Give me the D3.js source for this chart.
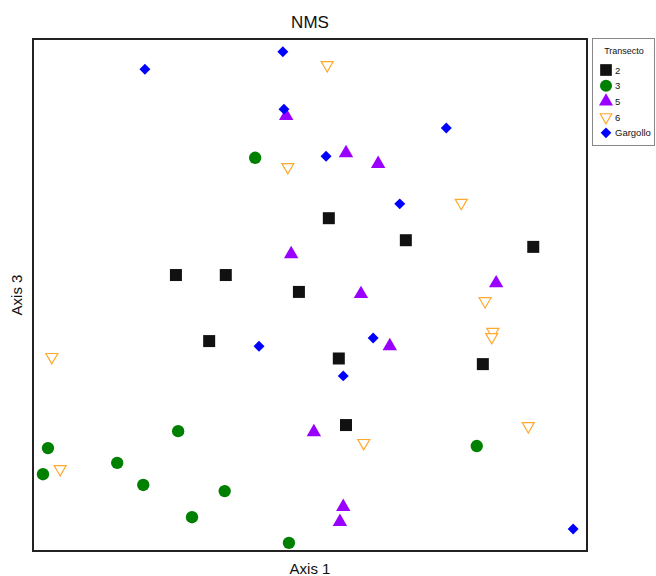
<!DOCTYPE html>
<html><head><meta charset="utf-8">
<script src="https://cdn.jsdelivr.net/npm/d3@7"></script>
<style>body{margin:0;background:#fff}svg{display:block}text{font-family:Arial,"Liberation Sans",sans-serif}</style>
</head><body><svg id="c" width="656" height="576"></svg>
<script>
// NMS scores (arbitrary axis units)
const groups = ["2","3","5","6","Gargollo"];
const axis1_2 = [0.534,0.673,0.903,0.258,0.348,0.480,0.318,0.552,0.812,0.565];
const axis3_2 = [0.650,0.607,0.594,0.539,0.539,0.506,0.410,0.376,0.365,0.246];
const axis1_3 = [0.401,0.262,0.027,0.018,0.152,0.199,0.346,0.287,0.462,0.801];
const axis3_3 = [0.768,0.234,0.201,0.150,0.172,0.129,0.117,0.066,0.016,0.205];
const axis1_5 = [0.457,0.466,0.565,0.623,0.836,0.592,0.644,0.507,0.560,0.554];
const axis3_5 = [0.852,0.582,0.779,0.758,0.525,0.504,0.402,0.234,0.088,0.059];
const axis1_6 = [0.531,0.460,0.773,0.816,0.830,0.828,0.894,0.597,0.034,0.049];
const axis3_6 = [0.949,0.750,0.680,0.488,0.428,0.418,0.244,0.211,0.379,0.160];
const axis1_G = [0.451,0.202,0.453,0.529,0.746,0.662,0.408,0.614,0.560,0.975];
const axis3_G = [0.975,0.941,0.863,0.771,0.826,0.678,0.400,0.416,0.342,0.043];
const colors = ["#111111","#008000","#9900ff","#ffa82e","#0000ff"];
const titleText = "NMS", xLabel = "Axis 1", yLabel = "Axis 3", legendTitle = "Transecto";

const xs=[axis1_2,axis1_3,axis1_5,axis1_6,axis1_G], ys=[axis3_2,axis3_3,axis3_5,axis3_6,axis3_G];
const data=[];
groups.forEach((g,i)=>xs[i].forEach((v,j)=>data.push({g:i,x:v,y:ys[i][j]})));

const svg=d3.select("#c");
const L=33,R=587,T=39,B=551;
const x=d3.scaleLinear().domain([0,1]).range([L,R]);
const y=d3.scaleLinear().domain([0,1]).range([B,T]);

const shapes=[d3.symbolSquare,d3.symbolCircle,d3.symbolTriangle,d3.symbolTriangle,d3.symbolSquare];
const sizes=[144,120,90,62,60];
function style(sel,gi){
  if(gi===3){sel.attr("fill","#fff").attr("stroke",colors[gi]).attr("stroke-width",1.2);}
  else sel.attr("fill",colors[gi]);
}
function rot(gi){ return gi===3?" rotate(180)":gi===4?" rotate(45)":""; }
function tr(d){
  let t=`translate(${x(d.x)},${y(d.y)})`+rot(d.g);
  if(d.g===2) t+=" translate(0,1)";
  return t;
}
// draw order: 2,3,6,5,G
[0,1,3,2,4].forEach(gi=>{
  svg.append("g").selectAll("path").data(data.filter(d=>d.g===gi)).join("path")
    .attr("d",d3.symbol().type(shapes[gi]).size(sizes[gi]))
    .each(function(){style(d3.select(this),gi);})
    .attr("transform",tr);
});

svg.append("rect").attr("x",L).attr("y",T).attr("width",R-L).attr("height",B-T)
  .attr("fill","none").attr("stroke","#222").attr("stroke-width",2);

svg.append("text").attr("x",310).attr("y",28).attr("text-anchor","middle").attr("font-size",17).attr("fill","#111").text(titleText);
svg.append("text").attr("x",310).attr("y",574).attr("text-anchor","middle").attr("font-size",15).attr("fill","#111").text(xLabel);
svg.append("text").attr("transform","translate(22,295) rotate(-90)").attr("text-anchor","middle").attr("font-size",15).attr("fill","#111").text(yLabel);

// legend
const lg=svg.append("g");
lg.append("rect").attr("x",592.5).attr("y",38.5).attr("width",62).attr("height",107).attr("fill","#fff").attr("stroke","#888").attr("stroke-width",1);
lg.append("text").attr("x",624).attr("y",54).attr("text-anchor","middle").attr("font-size",9).attr("fill","#111").text(legendTitle);
groups.forEach((g,i)=>{
  const yy=70+i*15.7;
  const p=lg.append("path");
  p.attr("d",d3.symbol().type(shapes[i]).size(sizes[i]*0.95)());
  style(p,i);
  p.attr("transform",`translate(606,${yy})`+rot(i));
  lg.append("text").attr("x",615).attr("y",yy+3.5).attr("font-size",9.5).attr("fill","#111").text(g);
});
</script></body></html>
